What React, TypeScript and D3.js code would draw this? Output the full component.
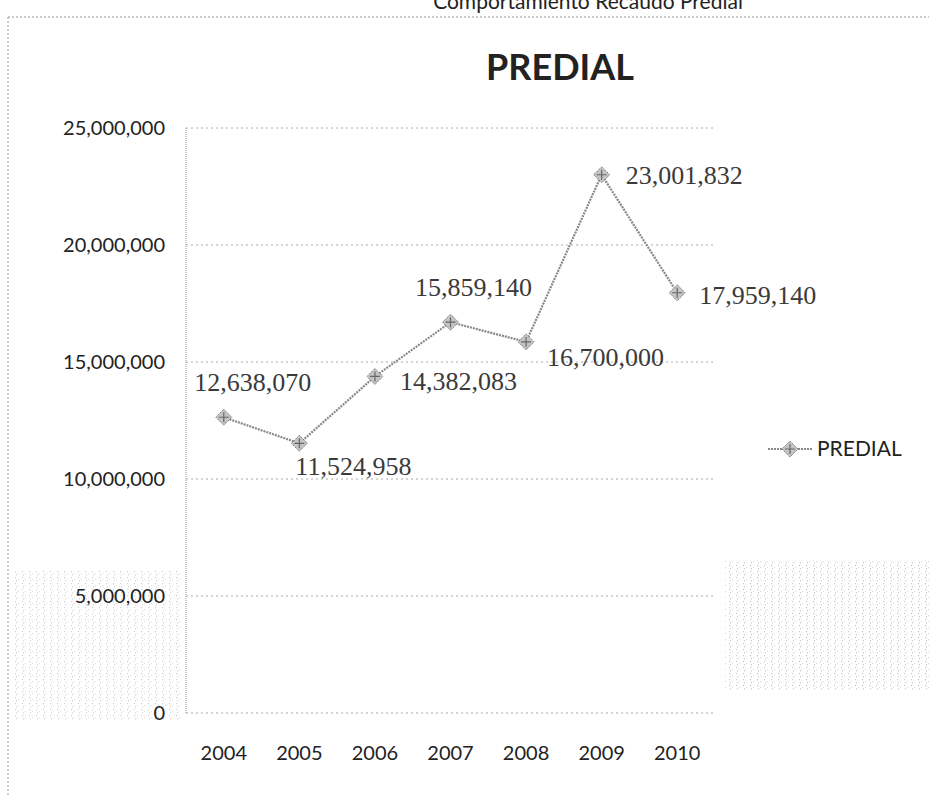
import React from "react";
import * as d3 from "d3";

const years = ["2004", "2005", "2006", "2007", "2008", "2009", "2010"];
const values = [12638070, 11524958, 14382083, 16700000, 15859140, 23001832, 17959140];
const pointLabels = ["12,638,070", "11,524,958", "14,382,083", "15,859,140", "16,700,000", "23,001,832", "17,959,140"];
const yTicks = [0, 5000000, 10000000, 15000000, 20000000, 25000000];
const seriesName = "PREDIAL";
const chartTitle = "PREDIAL";
const topTitle = "Comportamiento Recaudo Predial";

// label offsets relative to each point: [dx, dy, anchor]
const labelOffsets: [number, number, string][] = [
  [29, -26, "middle"],
  [-4, 32, "start"],
  [25, 14, "start"],
  [23, -26, "middle"],
  [21, 24, "start"],
  [24, 9, "start"],
  [22, 11, "start"],
];

export default function App() {
  const W = 929, H = 797;
  const left = 186, right = 715, top = 128, bottom = 713;
  const x = d3.scaleBand().domain(years).range([left, right]);
  const y = d3.scaleLinear().domain([0, 25000000]).range([bottom, top]);
  const fmt = d3.format(",");
  const cx = (d: string) => (x(d) as number) + x.bandwidth() / 2;
  const line = d3.line<number>().x((_, i) => cx(years[i])).y((v) => y(v));
  const font = "Lato, 'Open Sans', sans-serif";
  const marker = (px: number, py: number, key: string) => (
    <g key={key} transform={`translate(${px},${py})`}>
      <path d="M0,-8 L8,0 L0,8 L-8,0 Z" fill="#c4c4c4" stroke="#777" strokeWidth={1} strokeDasharray="1.5,1" />
      <path d="M-5,0 L5,0 M0,-5 L0,5" stroke="#666" strokeWidth={1.2} />
    </g>
  );
  return (
    <svg width={W} height={H} style={{ position: "absolute", left: 0, top: 0, background: "#fff" }}>
      <defs>
        <pattern id="speck" width="7" height="6" patternUnits="userSpaceOnUse">
          <rect x="1" y="1" width="1.2" height="1.2" fill="#999" />
          <rect x="4" y="3" width="1" height="1" fill="#bbb" />
          <rect x="2" y="4" width="1" height="1.5" fill="#aaa" />
        </pattern>
      </defs>
      <rect x={12} y={570} width={170} height={150} fill="url(#speck)" opacity={0.45} />
      <rect x={725} y={560} width={204} height={130} fill="url(#speck)" opacity={0.55} />
      <text x={588} y={9} textAnchor="middle" fontFamily={font} fontSize={21} fill="#222">{topTitle}</text>
      <line x1={8} x2={929} y1={17} y2={17} stroke="#999" strokeWidth={1} strokeDasharray="2,2" />
      <line x1={8} x2={8} y1={17} y2={797} stroke="#999" strokeWidth={1} strokeDasharray="2,2" />
      <text x={560} y={80} textAnchor="middle" fontFamily={font} fontWeight="bold" fontSize={36} fill="#222">{chartTitle}</text>
      {yTicks.map((t) => (
        <g key={t}>
          <line x1={left} x2={right} y1={y(t)} y2={y(t)} stroke="#aaa" strokeWidth={1} strokeDasharray="2,3" />
          <text x={165} y={y(t) + 7} textAnchor="end" fontFamily={font} fontSize={20} fill="#222">{fmt(t)}</text>
        </g>
      ))}
      <line x1={left} x2={left} y1={top} y2={bottom} stroke="#999" strokeWidth={1} strokeDasharray="1,1" />
      {years.map((yr) => (
        <text key={yr} x={cx(yr)} y={bottom + 47} textAnchor="middle" fontFamily={font} fontSize={20} fill="#222">{yr}</text>
      ))}
      <path d={line(values) as string} fill="none" stroke="#888" strokeWidth={2.2} strokeDasharray="2,1" />
      {values.map((v, i) => marker(cx(years[i]), y(v), "m" + i))}
      {values.map((v, i) => {
        const px = cx(years[i]), py = y(v);
        const [dx, dy, anchor] = labelOffsets[i];
        return (
          <text key={"l" + i} x={px + dx} y={py + dy} textAnchor={anchor} fontFamily="'Liberation Serif', serif" fontSize={26} fill="#3a3a3a">{pointLabels[i]}</text>
        );
      })}
      <line x1={768} x2={812} y1={449} y2={449} stroke="#888" strokeWidth={2.2} strokeDasharray="2,1" />
      {marker(790, 449, "leg")}
      <text x={817} y={456} fontFamily={font} fontSize={21} fill="#222">{seriesName}</text>
    </svg>
  );
}
